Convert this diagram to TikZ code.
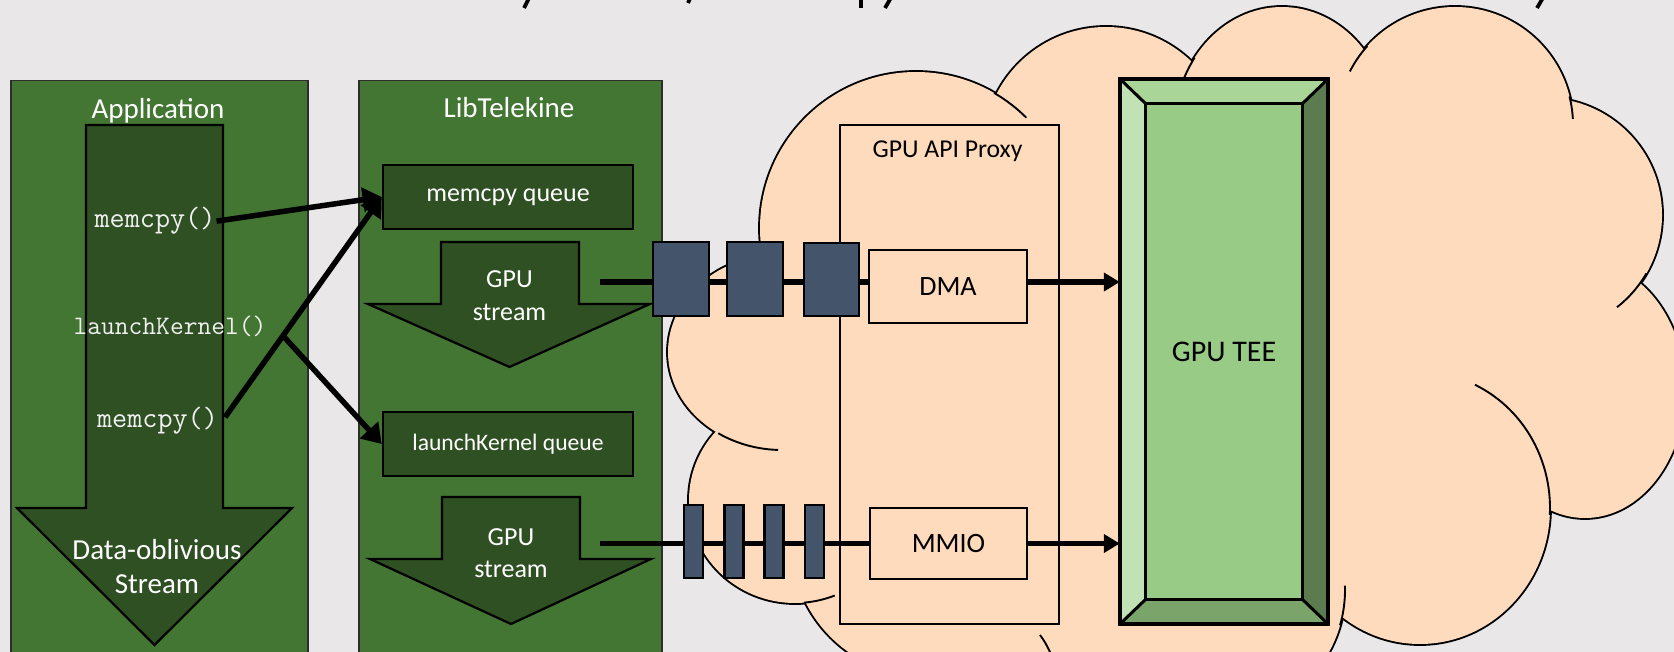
\documentclass[tikz,border=0pt]{standalone}
\usepackage{fontspec}
\setmainfont{Carlito}
\usetikzlibrary{arrows.meta,calc}

\definecolor{bggray}{RGB}{233,231,232}
\definecolor{panelgreen}{RGB}{66,118,50}
\definecolor{deepgreen}{RGB}{46,80,34}
\definecolor{peach}{RGB}{255,219,189}
\definecolor{slate}{RGB}{68,84,106}
\definecolor{teeface}{RGB}{152,203,134}
\definecolor{teetop}{RGB}{169,213,153}
\definecolor{teeleft}{RGB}{192,226,180}
\definecolor{teeright}{RGB}{92,123,79}
\definecolor{teebottom}{RGB}{122,164,106}
\definecolor{panelrule}{RGB}{45,45,45}

\newcommand{\fsz}[1]{\fontsize{#1}{#1}\selectfont}

\tikzset{
  panel/.style={draw=panelrule, line width=1.5pt, fill=panelgreen, anchor=north west, inner sep=0},
  paneltitle/.style={text=white, inner sep=0, anchor=base, font=\fsz{29}},
  codetext/.style={text=white!94!black, inner sep=0, anchor=base, font=\ttfamily\fsz{29.3}},
  flowarrow/.style={draw=black, line width=2.2pt, fill=deepgreen, line join=miter},
  streamtext/.style={text=white, inner sep=0, anchor=base, font=\fsz{26}},
  queuebox/.style={draw=black, line width=2.6pt, fill=deepgreen, text=white, inner sep=0,
                   minimum width=250pt, minimum height=64pt},
  proxybox/.style={draw=black, line width=2pt, fill=peach, inner sep=0},
  packet/.style={draw=black, line width=2.6pt, fill=slate, inner sep=0},
  conn/.style={line width=5.5pt, -{Triangle[length=19pt,width=24pt]}},
  feed/.style={line width=5.5pt, -{Triangle[length=16pt,width=18pt]}},
  wire/.style={line width=5.5pt},
  cloudrim/.style={line width=3.8pt},
  cloudtail/.style={line width=1.9pt},
  bevelline/.style={line width=3pt, line join=miter},
}

\begin{document}
\begin{tikzpicture}[x=1pt,y=-1pt]
\useasboundingbox (0,0) rectangle (1674,652);
\clip (0,0) rectangle (1674,652);
\fill[bggray] (0,0) rectangle (1674,652);

% descenders of the heading line above the frame
\begin{scope}[line width=3.8pt]
  \draw (530,-4) -- (524,8);
  \draw (691,-4) -- (688,3);
  \draw (861,-4) -- (861,8);
  \draw (892,-4) -- (885,8);
  \draw (1544,-4) -- (1537,8);
\end{scope}

% ---------------- cloud ----------------
\foreach \cx/\cy/\rx/\ry in {927/541/136/136, 795/500/106/103, 782/352/114/98,
    916/228/156/156, 1106/150/123/123, 1282/130/108/123, 1455/125/118/118,
    1545/215/117/117, 1585/390/100/128, 1420/508/130/136, 1217/590/128/128,
    1080/720/150/150}
  \draw[cloudrim] (\cx,\cy) ellipse [x radius=\rx pt, y radius=\ry pt];
\foreach \cx/\cy/\rx/\ry in {927/541/136/136, 795/500/106/103, 782/352/114/98,
    916/228/156/156, 1106/150/123/123, 1282/130/108/123, 1455/125/118/118,
    1545/215/117/117, 1585/390/100/128, 1420/508/130/136, 1217/590/128/128,
    1080/720/150/150}
  \fill[peach] (\cx,\cy) ellipse [x radius=\rx pt, y radius=\ry pt];
\fill[peach] (927,541) -- (795,500) -- (782,352) -- (916,228) -- (1106,150)
  -- (1282,130) -- (1455,125) -- (1545,215) -- (1585,390) -- (1420,508)
  -- (1217,590) -- (1080,720) -- cycle;

% inner ends of the cloud arcs
\begin{scope}[cloudtail]
  \draw plot[domain=-60:-45, samples=15] ({916+156*cos(\x)},{228+156*sin(\x)});
  \draw plot[domain=-156:-144, samples=10] ({1282+108*cos(\x)},{130+123*sin(\x)});
  \draw plot[domain=-153:-138, samples=10] ({1455+118*cos(\x)},{125+118*sin(\x)});
  \draw plot[domain=-14:-3, samples=10] ({1455+118*cos(\x)},{125+118*sin(\x)});
  \draw plot[domain=30:52, samples=15] ({1545+117*cos(\x)},{215+117*sin(\x)});
  \draw plot[domain=-65:3, samples=30] ({1420+130*cos(\x)},{508+136*sin(\x)});
  \draw plot[domain=-2:16, samples=10] ({1217+128*cos(\x)},{590+128*sin(\x)});
  \draw plot[domain=92:124, samples=15] ({782+114*cos(\x)},{352+98*sin(\x)});
  \draw plot[domain=68:85, samples=10] ({795+106*cos(\x)},{500+103*sin(\x)});
  \draw (1040,635) .. controls (1045,642) .. (1051,654);
\end{scope}

% ---------------- GPU API proxy ----------------
\node[proxybox, anchor=north west, minimum width=219pt, minimum height=499pt] (proxy) at (839,124) {};
\node[inner sep=0, anchor=base, font=\fsz{25.7}] (proxytitle) at (947.5,158) {GPU API Proxy};

% ---------------- Application panel ----------------
\node[panel, minimum width=297pt, minimum height=600pt] (app) at (10,80) {};
\node[paneltitle] (apptitle) at (158,119) {Application};
\draw[flowarrow] (86,125) -- (223,125) -- (223,508) -- (292,508) -- (154.5,645)
  -- (17,508) -- (86,508) -- cycle;
\node[codetext] (m1) at (155,228) {memcpy()};
\node[codetext, font=\ttfamily\fsz{26.7}] (lk) at (170,335) {launchKernel()};
\node[codetext] (m2) at (157.5,427) {memcpy()};
\node[paneltitle] (dos1) at (157,559) {Data-oblivious};
\node[paneltitle] (dos2) at (157,593) {Stream};

% ---------------- LibTelekine panel ----------------
\node[panel, minimum width=303pt, minimum height=600pt] (lib) at (358,80) {};
\node[paneltitle] (libtitle) at (509,118) {LibTelekine};
\node[queuebox, font=\fsz{26}] (mq) at (508,197) {memcpy queue};
\draw[flowarrow] (441,242) -- (579,242) -- (579,304) -- (650,304) -- (509.5,367)
  -- (368,304) -- (441,304) -- cycle;
\node[streamtext] (g1) at (509.5,288) {GPU};
\node[streamtext] (s1t) at (509.5,321) {stream};
\node[queuebox, font=\fsz{23.6}] (lq) at (508,444) {launchKernel queue};
\draw[flowarrow] (442,497) -- (580,497) -- (580,559) -- (651,559) -- (511,624)
  -- (370,559) -- (442,559) -- cycle;
\node[streamtext] (g2) at (511,545) {GPU};
\node[streamtext] (s2t) at (511,577) {stream};

% ---------------- DMA / MMIO paths ----------------
\node[proxybox, minimum width=158pt, minimum height=73pt, font=\fsz{28}] (dma) at (948,286.5) {DMA};
\node[proxybox, minimum width=157pt, minimum height=71pt, font=\fsz{28}] (mmio) at (948.5,543.5) {MMIO};
\node[inner sep=0, minimum width=208pt, minimum height=545pt] (tee) at (1224,351.5) {};

\coordinate (src1) at (600,282);
\coordinate (src2) at (600,543.5);
\draw[wire] (src1) -- (src1 -| dma.west);
\draw[wire] (src2) -- (src2 -| mmio.west);
\draw[feed] (src1 -| dma.east) -- (src1 -| tee.west);
\draw[feed] (src2 -| mmio.east) -- (src2 -| tee.west);

\node[packet, minimum width=56pt, minimum height=74pt] (d1) at (681,279) {};
\node[packet, minimum width=56pt, minimum height=74pt] (d2) at (755,279) {};
\node[packet, minimum width=55pt, minimum height=73pt] (d3) at (831.5,279.5) {};
\foreach \px [count=\i] in {693.5,733.75,774.25,814.5}
  \node[packet, minimum width=19pt, minimum height=73pt] (r\i) at (\px,541.5) {};

% ---------------- GPU TEE (bevelled block) ----------------
\coordinate (onw) at (tee.north west);
\coordinate (one) at (tee.north east);
\coordinate (osw) at (tee.south west);
\coordinate (ose) at (tee.south east);
\coordinate (inw) at ($(tee.north west)+(26,25)$);
\coordinate (ine) at ($(tee.north east)+(-26,25)$);
\coordinate (isw) at ($(tee.south west)+(26,-25)$);
\coordinate (ise) at ($(tee.south east)+(-26,-25)$);
\fill[teetop] (onw) -- (one) -- (ine) -- (inw) -- cycle;
\fill[teeleft] (onw) -- (inw) -- (isw) -- (osw) -- cycle;
\fill[teeright] (one) -- (ine) -- (ise) -- (ose) -- cycle;
\fill[teebottom] (osw) -- (isw) -- (ise) -- (ose) -- cycle;
\fill[teeface] (inw) rectangle (ise);
\draw[bevelline] (inw) rectangle (ise);
\draw[bevelline] (onw) -- (inw) (one) -- (ine) (osw) -- (isw) (ose) -- (ise);
\draw[line width=4pt] (onw) rectangle (ose);
\node[inner sep=0, font=\fsz{30}] (teelabel) at (tee.center) {GPU TEE};

% ---------------- calls into the queues ----------------
\coordinate (m2s) at ($(m2.east)+(7,-3)$);
\coordinate (fork) at ($(m2s)!0.37!(mq.west)$);
\draw[conn] ($(m1.east)+(1,0)$) -- (mq.west);
\draw[conn] (m2s) -- (mq.west);
\draw[conn] (fork) -- (lq.west);
\end{tikzpicture}
\end{document}
